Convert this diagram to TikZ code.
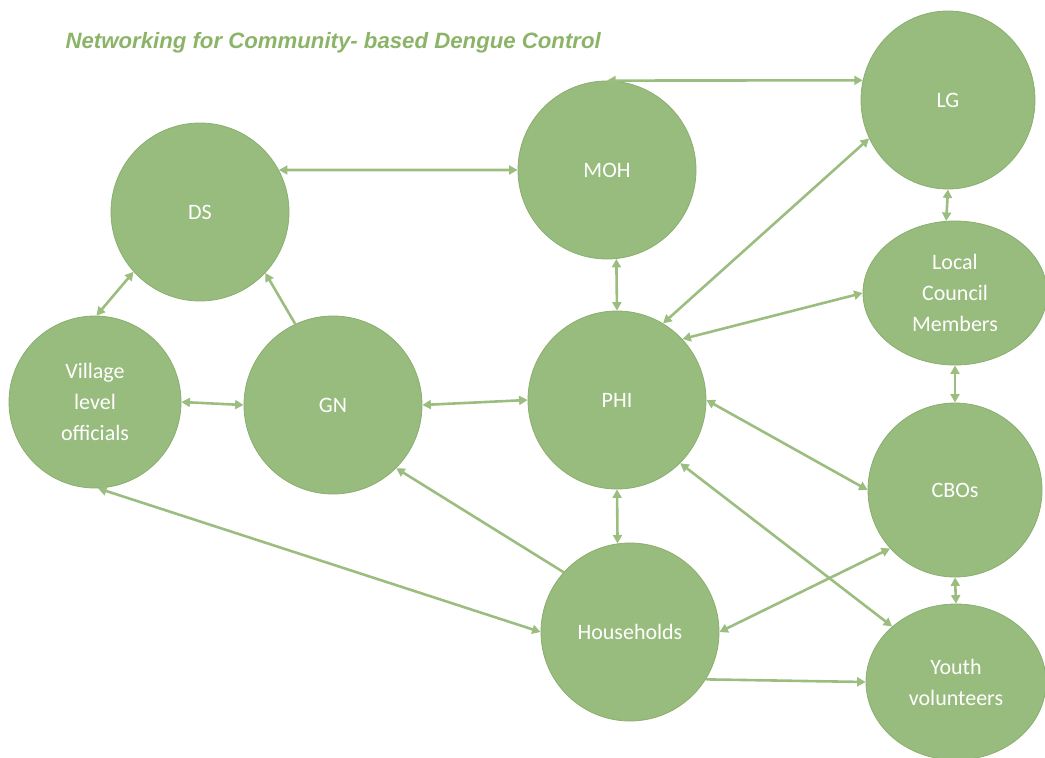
\documentclass[tikz,border=0pt]{standalone}
\usepackage{fontspec}
\setmainfont{Carlito}
\newfontfamily\titlefont{Liberation Sans}
\usetikzlibrary{arrows.meta,shapes.geometric}
\definecolor{nodefill}{RGB}{152,187,126}
\definecolor{nodeline}{RGB}{138,175,110}
\definecolor{linkcol}{RGB}{155,190,128}
\definecolor{titlecol}{RGB}{140,180,104}
\begin{document}
\begin{tikzpicture}[x=1pt,y=-1pt,
  actor/.style={circle,fill=nodefill,draw=nodeline,line width=0.8pt,
    minimum size=#1,inner sep=0pt,text=white,align=center,
    font=\fontsize{22}{31}\selectfont},
  actor/.default=178pt,
  oval/.style={ellipse,fill=nodefill,draw=nodeline,line width=0.8pt,
    inner sep=0pt,text=white,align=center,
    font=\fontsize{22}{31}\selectfont},
  link/.style={draw=linkcol,line width=2.6pt,
    arrows={Triangle[length=8.5pt,width=9pt]-Triangle[length=8.5pt,width=9pt]}},
  oneway/.style={draw=linkcol,line width=2.6pt,
    arrows={-Triangle[length=8.5pt,width=9pt]}}]
\useasboundingbox (0,0) rectangle (1045,758);

% title
\node[anchor=west,text=titlecol,font=\titlefont\bfseries\itshape\fontsize{22.2}{26}\selectfont]
  (title) at (62,43) {Networking for Community- based Dengue Control};

% actors
\node[actor] (DS)  at (200,212) {DS};
\node[actor] (MOH) at (607,170) {MOH};
\node[oval,minimum width=174pt,minimum height=178pt] (LG) at (948,100) {LG};
\node[oval,minimum width=184pt,minimum height=144pt] (LCM) at (955,293) {Local\\Council\\Members};
\node[actor=172pt] (VLO) at (95,402) {Village\\level\\officials};
\node[actor] (GN)  at (333,405) {GN};
\node[actor] (PHI) at (617,400) {PHI};
\node[actor=174pt] (CBO) at (955,490) {CBOs};
\node[actor] (HH)  at (630,632) {Households};
\node[oval,minimum width=180pt,minimum height=156pt] (YV) at (956,682) {Youth\\volunteers};

% connections
\draw[link] (DS.28) -- (MOH.west);
\draw[link] (MOH.north) -- (LG.167);
\draw[link] (DS.222) -- (VLO.89);
\draw[oneway] (GN.115) -- (DS.317);
\draw[link] (VLO.east) -- (GN.west);
\draw[link] (GN.east) -- (PHI.west);
\draw[link] (MOH.-84) -- (PHI.north);
\draw[link] (PHI.59) -- (LG.206);
\draw[link] (PHI.43) -- (LCM.west);
\draw[link] (LG.south) -- (LCM.97);
\draw[link] (LCM.south) -- (CBO.north);
\draw[link] (PHI.east) -- (CBO.west);
\draw[link] (PHI.-45) -- (YV.139);
\draw[link] (PHI.south) -- (HH.98);
\draw[oneway] (HH.138) -- (GN.-45);
\draw[link] (HH.west) -- (VLO.-88);
\draw[link] (HH.east) -- (CBO.222);
\draw[link] (CBO.south) -- (YV.north);
\draw[oneway] (HH.-32) -- (YV.west);
\end{tikzpicture}
\end{document}
